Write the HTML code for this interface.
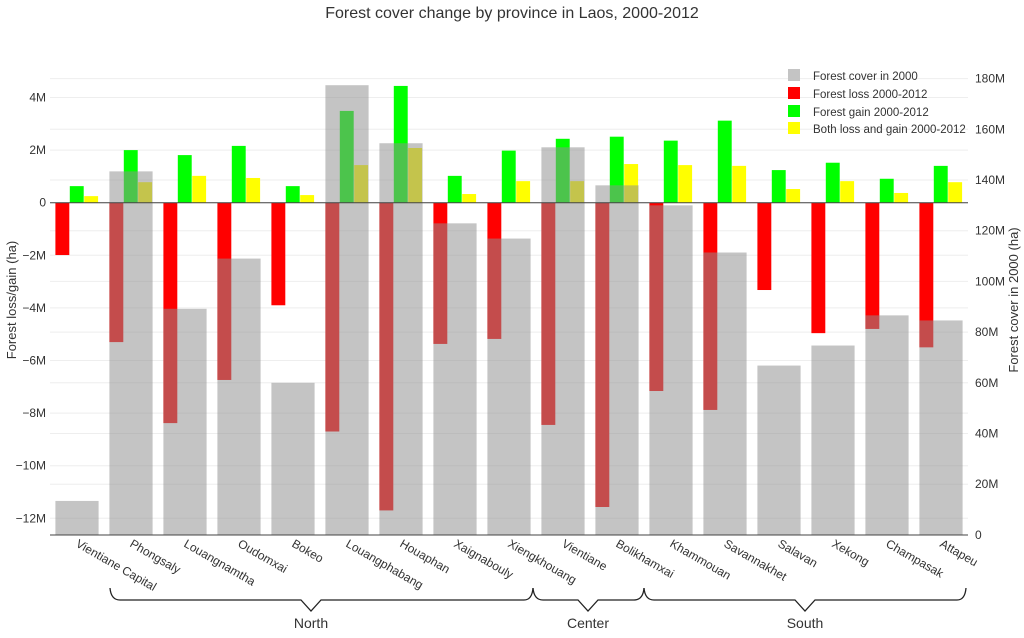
<!DOCTYPE html>
<html><head><meta charset="utf-8"><style>
body{margin:0;background:#fff;font-family:"Liberation Sans","DejaVu Sans",sans-serif;}
svg text{font-family:"Liberation Sans","DejaVu Sans",sans-serif;fill:#333;}
</style></head><body>
<svg id="chart" width="1024" height="633" viewBox="0 0 1024 633" xmlns="http://www.w3.org/2000/svg">
<text x="512" y="18" text-anchor="middle" font-size="16">Forest cover change by province in Laos, 2000-2012</text>
<g id="grid"></g><g id="bars"></g><g id="axes"></g>
<text transform="translate(16,300) rotate(-90)" text-anchor="middle" font-size="13">Forest loss/gain (ha)</text>
<text transform="translate(1018,300) rotate(-90)" text-anchor="middle" font-size="13">Forest cover in 2000 (ha)</text>
<g font-size="11.5">
<rect x="788" y="69" width="12" height="12" fill="#c4c4c4"/><text x="813" y="80">Forest cover in 2000</text>
<rect x="788" y="87" width="12" height="12" fill="#ff0000"/><text x="813" y="98">Forest loss 2000-2012</text>
<rect x="788" y="105" width="12" height="12" fill="#00ff00"/><text x="813" y="116">Forest gain 2000-2012</text>
<rect x="788" y="122" width="12" height="12" fill="#ffff00"/><text x="813" y="133">Both loss and gain 2000-2012</text>
</g>
<g fill="none" stroke="#222" stroke-width="1.3">
<path d="M110 588 Q111 600 120 600 L301 600 L311 611 L321 600 L524 600 Q532 600 533 588"/>
<path d="M533 588 Q534 600 543 600 L578 600 L588 611 L598 600 L634 600 Q643 600 644 588"/>
<path d="M644 588 Q645 600 654 600 L795 600 L805 611 L815 600 L957 600 Q965 600 966 588"/>
</g>
<text x="311" y="628" text-anchor="middle" font-size="14">North</text>
<text x="588" y="628" text-anchor="middle" font-size="14">Center</text>
<text x="805" y="628" text-anchor="middle" font-size="14">South</text>
</svg>
<script>
const provinces=["Vientiane Capital","Phongsaly","Louangnamtha","Oudomxai","Bokeo","Louangphabang","Houaphan","Xaignabouly","Xiengkhouang","Vientiane","Bolikhamxai","Khammouan","Savannakhet","Salavan","Xekong","Champasak","Attapeu"];
const lossM=[-1.99,-5.3,-8.38,-6.74,-3.9,-8.7,-11.7,-5.37,-5.18,-8.45,-11.57,-7.16,-7.88,-3.32,-4.96,-4.8,-5.5];
const gainM=[0.63,2.0,1.81,2.16,0.63,3.49,4.44,1.02,1.98,2.43,2.51,2.36,3.12,1.24,1.52,0.91,1.4];
const bothM=[0.25,0.78,1.02,0.94,0.29,1.43,2.08,0.33,0.82,0.82,1.47,1.43,1.4,0.52,0.82,0.37,0.78];
const coverM=[13.4,143.4,89.2,109,60,177.4,154.5,122.9,116.9,152.9,137.9,130,111.4,66.8,74.7,86.6,84.6];
const leftTicks=[4,2,0,-2,-4,-6,-8,-10,-12];
const rightTicks=[0,20,40,60,80,100,120,140,160,180];
const NS="http://www.w3.org/2000/svg";
const X0=50,X1=968,BOT=535,TOP=60;
const bw=(X1-X0)/provinces.length;
const yL=v=>202.7-v*26.3;
const yR=v=>534.9-v*2.535;
const xC=i=>X0+bw*(i+0.5);
function mk(p,t,a){const e=document.createElementNS(NS,t);for(const k in a)e.setAttribute(k,a[k]);p.appendChild(e);return e;}
const grid=document.getElementById('grid'),bars=document.getElementById('bars'),axes=document.getElementById('axes');
rightTicks.forEach(v=>{const l=mk(grid,'line',{x1:X0,x2:X1,y1:yR(v),y2:yR(v),stroke:'#eee'});


const t=mk(axes,'text',{x:975,y:yR(v)+4,'font-size':12});t.textContent=v===0?'0':v+'M';

});
leftTicks.forEach(v=>{const l=mk(grid,'line',{x1:X0,x2:X1,y1:yL(v),y2:yL(v),stroke:'#eee'});


const t=mk(axes,'text',{x:46,y:yL(v)+4,'font-size':12,'text-anchor':'end'});t.textContent=v===0?'0':(v<0?'\u2212'+(-v):v)+'M';

});
const gw=bw*0.8,sw=gw/3;
provinces.forEach((p,i)=>{const g0=xC(i)-gw/2;
[[lossM,'#ff0000','loss'],[gainM,'#00ff00','gain'],[bothM,'#ffff00','both']].forEach((s,k)=>{const v=s[0][i];const y=Math.min(yL(0),yL(v));
const r=mk(bars,'rect',{x:g0+k*sw,y:y,width:sw-0.5,height:Math.abs(yL(v)-yL(0)),fill:s[1]});

});});
provinces.forEach((p,i)=>{const g0=xC(i)-gw/2;
const r=mk(bars,'rect',{x:g0,y:yR(coverM[i]),width:gw,height:yR(0)-yR(coverM[i]),fill:'rgba(144,144,144,0.53)'});


const t=mk(axes,'text',{transform:`translate(${xC(i)-2},${546}) rotate(30)`,'font-size':12});t.textContent=p;

});
const z=mk(axes,'line',{x1:X0,x2:X1,y1:yL(0),y2:yL(0),stroke:'#444','stroke-width':1});


const b=mk(axes,'line',{x1:X0,x2:X1,y1:BOT,y2:BOT,stroke:'#444','stroke-width':1});


</script>
</body></html>
